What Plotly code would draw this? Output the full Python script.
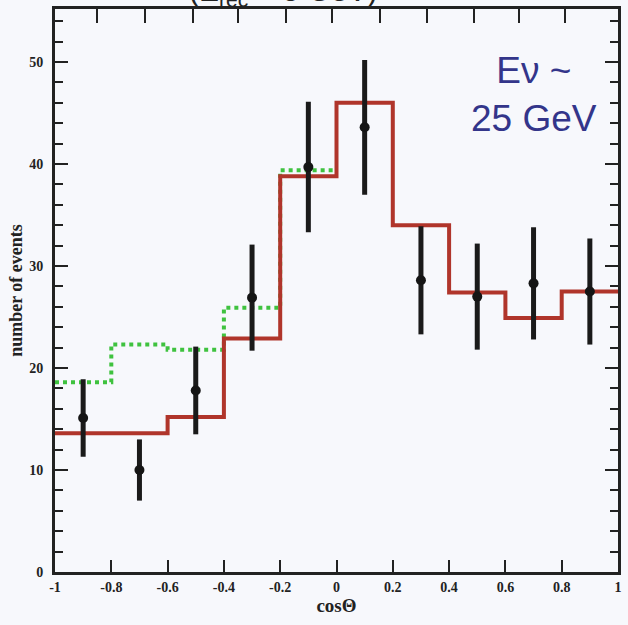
import plotly.graph_objects as go

# Bin edges in cos(theta) and the two predicted histograms
bin_edges = [-1.0, -0.8, -0.6, -0.4, -0.2, 0.0, 0.2, 0.4, 0.6, 0.8, 1.0]
pred_osc = [13.6, 13.6, 15.2, 22.9, 38.8, 46.0, 34.0, 27.4, 24.9, 27.5]
pred_alt_edges = [-1.0, -0.8, -0.6, -0.4, -0.2, 0.0]
pred_alt = [18.6, 22.3, 21.8, 25.9, 39.4]

# Measured event counts with statistical errors
data_x = [-0.9, -0.7, -0.5, -0.3, -0.1, 0.1, 0.3, 0.5, 0.7, 0.9]
data_y = [15.1, 10.0, 17.8, 26.9, 39.7, 43.6, 28.6, 27.0, 28.3, 27.5]
data_err = [3.8, 3.0, 4.3, 5.2, 6.4, 6.6, 5.3, 5.2, 5.5, 5.2]

x_ticks = [-1, -0.8, -0.6, -0.4, -0.2, 0, 0.2, 0.4, 0.6, 0.8, 1]
x_tick_text = ["-1", "-0.8", "-0.6", "-0.4", "-0.2", "0", "0.2", "0.4", "0.6", "0.8", "1"]
top_ticks = [-0.85, -0.68, -0.51, -0.35, -0.18, -0.015, 0.155, 0.32, 0.49, 0.65, 0.81]
y_ticks = [0, 10, 20, 30, 40, 50]

BG = "#f7f8fc"
RED = "#b0352b"
GREEN = "#3fc23f"
NAVY = "#33358a"
INK = "#222222"
SERIF = "Liberation Serif, Times New Roman, serif"
SANS = "Liberation Sans, Arial, sans-serif"

fig = go.Figure()

fig.add_trace(go.Scatter(
    x=pred_alt_edges, y=pred_alt + [pred_alt[-1]],
    mode="lines", line=dict(color=GREEN, width=4, dash="dot", shape="hv"),
    hoverinfo="skip", showlegend=False,
))
fig.add_trace(go.Scatter(
    x=bin_edges, y=pred_osc + [pred_osc[-1]],
    mode="lines", line=dict(color=RED, width=4, shape="hv"),
    hoverinfo="skip", showlegend=False,
))
fig.add_trace(go.Scatter(
    x=data_x, y=data_y, mode="markers",
    marker=dict(color="#151515", size=10),
    error_y=dict(type="data", array=data_err, visible=True,
                 color="#1a1a1a", thickness=5, width=0),
    showlegend=False,
))
# invisible trace to activate the top tick axis
fig.add_trace(go.Scatter(x=[None], y=[None], xaxis="x2", showlegend=False))

tick_font = dict(family=SERIF, size=14, color=INK, weight="bold")

fig.update_layout(
    width=628, height=625,
    margin=dict(l=55, r=6, t=9, b=53),
    paper_bgcolor=BG, plot_bgcolor=BG,
    xaxis=dict(
        range=[-1, 1], tickvals=x_ticks, ticktext=x_tick_text,
        ticks="inside", ticklen=12, tickwidth=2, tickcolor=INK,
        showline=True, linecolor=INK, linewidth=3, mirror=True,
        showgrid=False, zeroline=False,
        tickfont=tick_font,
        title=dict(text="<b>cosΘ</b>", font=dict(family=SERIF, size=19, color=INK),
                   standoff=5),
    ),
    xaxis2=dict(
        overlaying="x", side="top", range=[-1, 1], tickvals=top_ticks,
        ticks="inside", ticklen=14, tickwidth=2, tickcolor=INK,
        showticklabels=False, showgrid=False, zeroline=False, showline=False,
    ),
    yaxis=dict(
        range=[0, 55.2], tickvals=y_ticks,
        ticks="inside", ticklen=13, tickwidth=2, tickcolor=INK,
        minor=dict(dtick=2, ticks="inside", ticklen=8, tickwidth=2, tickcolor=INK),
        showline=True, linecolor=INK, linewidth=3, mirror="ticks",
        showgrid=False, zeroline=False,
        tickfont=tick_font, ticklabelstandoff=6,
        title=dict(text="<b>number of events</b>",
                   font=dict(family=SERIF, size=18, color=INK), standoff=2),
    ),
    annotations=[
        dict(text="Eν ~<br>25 GeV", xref="paper", yref="paper",
             x=0.85, y=0.93, xanchor="center", yanchor="top", showarrow=False,
             align="center", font=dict(family=SANS, size=37, color=NAVY)),
        dict(text="(E<sub>rec</sub> > 5 GeV)", xref="paper", yref="paper",
             x=0.405, y=1, xanchor="center", yanchor="bottom", yshift=-4,
             showarrow=False, font=dict(family=SANS, size=30, color=INK)),
    ],
)

fig.write_html("out.html")
